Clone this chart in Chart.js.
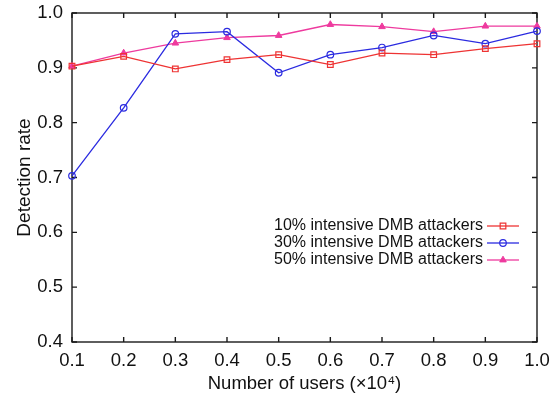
<!DOCTYPE html>
<html>
<head>
<meta charset="utf-8">
<script src="https://cdn.jsdelivr.net/npm/chart.js@4"></script>
<style>
  html, body { margin: 0; padding: 0; background: #fff; }
  #wrap { width: 554px; height: 398px; position: relative; }
</style>
</head>
<body>
<div id="wrap"><canvas id="c" width="554" height="398"></canvas></div>
<script>
const categories = ['0.1','0.2','0.3','0.4','0.5','0.6','0.7','0.8','0.9','1.0'];
const series10 = [0.903, 0.921, 0.898, 0.915, 0.924, 0.906, 0.927, 0.924, 0.935, 0.944];
const series30 = [0.703, 0.827, 0.962, 0.966, 0.891, 0.924, 0.937, 0.959, 0.944, 0.967];
const series50 = [0.903, 0.927, 0.945, 0.955, 0.959, 0.979, 0.975, 0.966, 0.976, 0.976];
const seriesLabels = ['10% intensive DMB attackers', '30% intensive DMB attackers', '50% intensive DMB attackers'];
const yTicks = [0.4, 0.5, 0.6, 0.7, 0.8, 0.9, 1.0];

const FONT = 'Liberation Sans, Arial, Helvetica, sans-serif';

const framePlugin = {
  id: 'frame',
  beforeDatasetsDraw(chart) {
    const {ctx, chartArea: a, scales} = chart;
    ctx.save();
    ctx.strokeStyle = '#1a1a1a';
    ctx.lineWidth = 1.4;
    ctx.strokeRect(a.left, a.top, a.right - a.left, a.bottom - a.top);
    const L = 5;
    ctx.beginPath();
    scales.x.ticks.forEach((t, i) => {
      const x = scales.x.getPixelForTick(i);
      ctx.moveTo(x, a.bottom); ctx.lineTo(x, a.bottom - L);
      ctx.moveTo(x, a.top); ctx.lineTo(x, a.top + L);
    });
    scales.y.ticks.forEach((t, i) => {
      const y = scales.y.getPixelForTick(i);
      ctx.moveTo(a.left, y); ctx.lineTo(a.left + L, y);
      ctx.moveTo(a.right, y); ctx.lineTo(a.right - L, y);
    });
    ctx.stroke();
    ctx.restore();
  }
};

const legendPlugin = {
  id: 'customLegend',
  afterDatasetsDraw(chart) {
    const {ctx} = chart;
    const textRight = 483, lineStart = 487, lineEnd = 519;
    const rows = [226, 243, 260];
    ctx.save();
    ctx.font = '16px ' + FONT;
    ctx.textAlign = 'right';
    ctx.textBaseline = 'middle';
    chart.data.datasets.forEach((ds, i) => {
      const y = rows[i];
      ctx.fillStyle = '#111';
      ctx.fillText(ds.label, textRight, y);
      ctx.strokeStyle = ds.borderColor;
      ctx.lineWidth = ds.borderWidth;
      ctx.beginPath(); ctx.moveTo(lineStart, y); ctx.lineTo(lineEnd, y); ctx.stroke();
      ctx.fillStyle = ds.pointBackgroundColor;
      ctx.strokeStyle = ds.borderColor;
      ctx.lineWidth = ds.pointBorderWidth;
      Chart.helpers.drawPoint(ctx, {
        pointStyle: ds.pointStyle, radius: ds.pointRadius, rotation: 0,
        borderWidth: ds.pointBorderWidth
      }, (lineStart + lineEnd) / 2, y);
    });
    ctx.restore();
  }
};

new Chart(document.getElementById('c'), {
  type: 'line',
  data: {
    labels: categories,
    datasets: [
      { label: seriesLabels[0], data: series10, borderColor: '#ee3333', backgroundColor: '#ee3333',
        pointBackgroundColor: 'rgba(255,255,255,0)', pointStyle: 'rect', pointRadius: 4,
        pointBorderWidth: 1.2, borderWidth: 1.3, tension: 0, clip: false },
      { label: seriesLabels[1], data: series30, borderColor: '#2b2be0', backgroundColor: '#2b2be0',
        pointBackgroundColor: 'rgba(255,255,255,0)', pointStyle: 'circle', pointRadius: 3.3,
        pointBorderWidth: 1.2, borderWidth: 1.3, tension: 0, clip: false },
      { label: seriesLabels[2], data: series50, borderColor: '#ee3a9e', backgroundColor: '#ee3a9e',
        pointBackgroundColor: '#ee3a9e', pointStyle: 'triangle', pointRadius: 3.8,
        pointBorderWidth: 1, borderWidth: 1.3, tension: 0, clip: false }
    ]
  },
  options: {
    responsive: false,
    animation: false,
    devicePixelRatio: 1,
    layout: { padding: { top: 13, right: 17, bottom: 0, left: 0 } },
    plugins: { legend: { display: false }, tooltip: { enabled: false } },
    elements: { point: { hoverRadius: 4 } },
    scales: {
      x: {
        type: 'category',
        offset: false,
        grid: { display: false, drawTicks: false },
        border: { display: false },
        ticks: { color: '#111', font: { family: FONT, size: 18.5 }, padding: 8, maxRotation: 0, autoSkip: false },
        title: { display: true, text: 'Number of users (×10⁴)', color: '#111',
                 font: { family: FONT, size: 18.5 }, padding: { top: 0, bottom: 3 } },
        afterFit(s) { s.height = 398 - 342; s.paddingLeft = 0; s.paddingRight = 0; }
      },
      y: {
        min: 0.4, max: 1.0,
        afterBuildTicks(s) { s.ticks = yTicks.map(v => ({ value: v })); },
        grid: { display: false, drawTicks: false },
        border: { display: false },
        ticks: { color: '#111', font: { family: FONT, size: 18.5 }, padding: 9,
                 callback: v => Number(v).toFixed(1) },
        title: { display: true, text: 'Detection rate', color: '#111',
                 font: { family: FONT, size: 19 }, padding: { top: 13, bottom: 0 } },
        afterFit(s) { s.width = 72; s.paddingTop = 0; s.paddingBottom = 0; }
      }
    }
  },
  plugins: [framePlugin, legendPlugin]
});
</script>
</body>
</html>
